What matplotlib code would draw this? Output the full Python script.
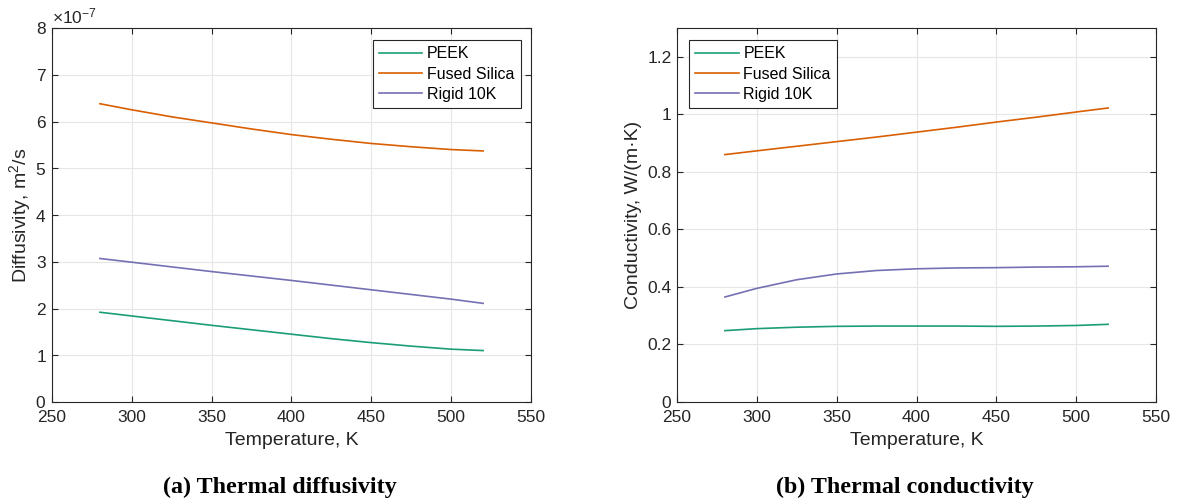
import numpy as np
import matplotlib
matplotlib.use("Agg")
import matplotlib.pyplot as plt
from matplotlib.ticker import ScalarFormatter

matplotlib.rcParams.update({
    "font.family": ["Liberation Sans", "DejaVu Sans"],
    "font.size": 13,
    "axes.edgecolor": "#262626",
    "xtick.color": "#262626",
    "ytick.color": "#262626",
    "axes.labelcolor": "#262626",
    "xtick.direction": "in",
    "ytick.direction": "in",
    "mathtext.fontset": "custom",
    "mathtext.rm": "Liberation Sans",
    "mathtext.it": "Liberation Sans:italic",
})

# Temperature samples, K
T = [280, 300, 325, 350, 375, 400, 425, 450, 475, 500, 520]

# Thermal diffusivity, m^2/s
diff_peek   = np.array([1.92, 1.84, 1.74, 1.64, 1.545, 1.45, 1.355, 1.27, 1.195, 1.13, 1.10]) * 1e-7
diff_silica = np.array([6.38, 6.25, 6.10, 5.97, 5.84, 5.72, 5.62, 5.53, 5.46, 5.40, 5.37]) * 1e-7
diff_rigid  = np.array([3.07, 2.99, 2.89, 2.79, 2.695, 2.60, 2.50, 2.40, 2.30, 2.20, 2.11]) * 1e-7

# Thermal conductivity, W/(m K)
cond_peek   = [0.248, 0.255, 0.260, 0.263, 0.264, 0.264, 0.264, 0.263, 0.264, 0.266, 0.270]
cond_silica = [0.860, 0.873, 0.889, 0.905, 0.921, 0.938, 0.955, 0.973, 0.990, 1.008, 1.022]
cond_rigid  = [0.365, 0.395, 0.425, 0.445, 0.457, 0.463, 0.466, 0.467, 0.469, 0.470, 0.472]

NAMES  = ["PEEK", "Fused Silica", "Rigid 10K"]
COLORS = ["#1b9e77", "#d95f02", "#7570b3"]

W, H = 1177, 503
fig = plt.figure(figsize=(W / 100, H / 100), dpi=100)
ax1 = fig.add_axes([52/W, 1 - 402/H, 479/W, 374/H])
ax2 = fig.add_axes([677/W, 1 - 402/H, 479/W, 374/H])


def style(ax):
    ax.set_xlim(250, 550)
    ax.set_xticks(range(250, 551, 50))
    ax.grid(True, color="#e6e6e6", linewidth=0.8)
    ax.set_axisbelow(True)
    ax.tick_params(top=True, right=True, length=4, width=0.8, labelsize=12.5)
    ax.tick_params(axis="x", pad=6)
    ax.tick_params(axis="y", pad=4)
    for s in ax.spines.values():
        s.set_linewidth(0.8)
    ax.set_xlabel("Temperature, K", fontsize=14, labelpad=5)


def add_legend(ax, loc, anchor):
    leg = ax.legend(loc=loc, bbox_to_anchor=anchor, fancybox=False,
                    edgecolor="#262626", framealpha=1, fontsize=11.5,
                    handlelength=2.7, borderpad=0.4, labelspacing=0.33,
                    handletextpad=0.3, borderaxespad=0)
    leg.get_frame().set_linewidth(0.8)


for y, name, c in zip([diff_peek, diff_silica, diff_rigid], NAMES, COLORS):
    ax1.plot(T, y, color=c, linewidth=1.2, label=name)
style(ax1)
ax1.set_ylim(0, 8e-7)
ax1.set_yticks(np.arange(0, 8.1e-7, 1e-7))
fmt = ScalarFormatter(useMathText=True)
fmt.set_powerlimits((-3, 3))
ax1.yaxis.set_major_formatter(fmt)
ax1.yaxis.get_offset_text().set_fontsize(12.5)
ax1.set_ylabel("Diffusivity, m$^2$/s", fontsize=14, labelpad=1.5)
add_legend(ax1, "upper right", (1 - 10/479, 1 - 12/374))

for y, name, c in zip([cond_peek, cond_silica, cond_rigid], NAMES, COLORS):
    ax2.plot(T, y, color=c, linewidth=1.2, label=name)
style(ax2)
ax2.set_ylim(0, 1.3)
ax2.set_yticks([0, 0.2, 0.4, 0.6, 0.8, 1.0, 1.2])
ax2.set_yticklabels(["0", "0.2", "0.4", "0.6", "0.8", "1", "1.2"])
ax2.set_ylabel("Conductivity, W/(m\u00b7K)", fontsize=14, labelpad=4)
add_legend(ax2, "upper left", (12/479, 1 - 12/374))

fig.text(280/W, 1 - 487/H, "(a) Thermal diffusivity", ha="center", va="center",
         family="Liberation Serif", weight="bold", fontsize=17.3)
fig.text(905/W, 1 - 487/H, "(b) Thermal conductivity", ha="center", va="center",
         family="Liberation Serif", weight="bold", fontsize=17.3)

fig.savefig("out.png", dpi=100, facecolor="white")
